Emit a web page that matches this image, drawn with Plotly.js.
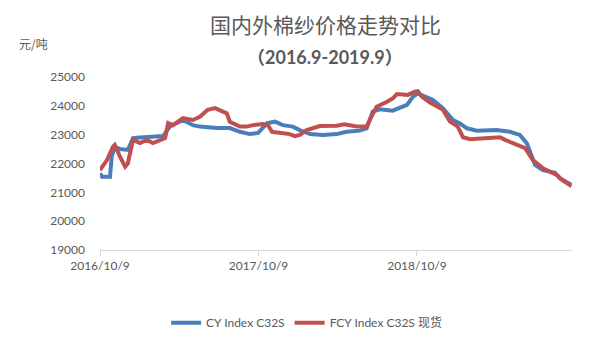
<!DOCTYPE html>
<html>
<head>
<meta charset="utf-8">
<script src="https://cdn.plot.ly/plotly-3.0.1.min.js"></script>
<style>html,body{margin:0;padding:0;background:#fff;}#chart{width:599px;height:362px;}</style>
</head>
<body>
<div id="chart"></div>
<script>
const cyDates = ['2016-10-09','2016-10-14','2016-11-01','2016-11-05','2016-11-12','2016-11-24','2016-12-12','2016-12-24','2017-01-09','2017-02-01','2017-03-03','2017-03-19','2017-04-18','2017-05-11','2017-05-27','2017-07-05','2017-08-04','2017-08-27','2017-09-19','2017-10-08','2017-10-29','2017-11-16','2017-12-04','2017-12-27','2018-01-12','2018-02-05','2018-03-06','2018-04-07','2018-04-30','2018-05-30','2018-06-15','2018-06-29','2018-07-15','2018-08-14','2018-09-16','2018-09-30','2018-10-11','2018-11-15','2018-12-08','2018-12-31','2019-01-16','2019-02-01','2019-02-24','2019-04-11','2019-05-11','2019-06-03','2019-06-19','2019-07-08','2019-07-26','2019-08-23','2019-09-03','2019-09-26','2019-09-30'];
const cyValues = [21660,21540,21540,22240,22580,22500,22470,22880,22900,22920,22950,23280,23510,23330,23280,23230,23230,23100,23020,23060,23400,23450,23330,23280,23160,23020,22990,23020,23100,23140,23220,23800,23880,23830,24030,24320,24430,24200,23910,23510,23390,23220,23140,23160,23100,22990,22700,21950,21770,21680,21490,21290,21260];

const fcyDates = ['2016-10-09','2016-10-25','2016-11-08','2016-11-12','2016-11-24','2016-12-06','2016-12-12','2016-12-24','2017-01-09','2017-01-25','2017-02-08','2017-02-24','2017-03-08','2017-03-15','2017-03-26','2017-04-18','2017-05-11','2017-05-27','2017-06-14','2017-07-01','2017-07-12','2017-07-28','2017-08-04','2017-08-27','2017-09-12','2017-09-26','2017-10-19','2017-10-31','2017-11-09','2017-11-27','2017-12-20','2018-01-01','2018-01-12','2018-01-28','2018-02-27','2018-04-07','2018-04-25','2018-05-23','2018-06-15','2018-06-26','2018-07-08','2018-08-01','2018-08-14','2018-08-24','2018-09-18','2018-10-04','2018-10-11','2018-10-20','2018-11-08','2018-12-08','2018-12-24','2019-01-11','2019-01-23','2019-02-08','2019-04-02','2019-04-18','2019-04-30','2019-05-18','2019-06-15','2019-07-03','2019-07-26','2019-08-27','2019-09-08','2019-09-26','2019-09-30'];
const fcyValues = [21770,22120,22580,22640,22240,21890,22000,22820,22710,22820,22710,22820,22880,23400,23330,23570,23510,23620,23860,23920,23860,23740,23450,23280,23280,23330,23370,23330,23100,23070,23020,22950,22990,23160,23300,23310,23360,23280,23280,23620,23970,24140,24260,24410,24380,24490,24510,24320,24110,23860,23450,23280,22910,22840,22870,22910,22820,22700,22530,22120,21830,21600,21430,21250,21220];

const seriesNames = ['CY Index C32S', 'FCY Index C32S 现货'];
const xTickVals = ['2016-10-09','2017-10-09','2018-10-09'];
const xTickText = ['2016/10/9','2017/10/9','2018/10/9'];
const yTickVals = [19000,20000,21000,22000,23000,24000,25000];

const labelFont = {family: 'Lato, "Noto Sans CJK SC", sans-serif', size: 12, color: '#595959'};

const traces = [
  {x: cyDates, y: cyValues, name: seriesNames[0], type: 'scatter', mode: 'lines',
   line: {color: '#4A7EBB', width: 4, shape: 'linear'}},
  {x: fcyDates, y: fcyValues, name: seriesNames[1], type: 'scatter', mode: 'lines',
   line: {color: '#C0504D', width: 4, shape: 'linear'}}
];

const layout = {
  width: 599, height: 362,
  margin: {l: 100, r: 27, t: 77, b: 112},
  paper_bgcolor: '#ffffff', plot_bgcolor: '#ffffff',
  font: labelFont,
  showlegend: true,
  legend: {orientation: 'h', x: 0.14, xanchor: 'left', y: -0.42, yanchor: 'middle',
           font: labelFont, bgcolor: 'rgba(0,0,0,0)', traceorder: 'normal'},
  xaxis: {type: 'date', range: ['2016-10-09', '2019-10-01'],
          tickvals: xTickVals, ticktext: xTickText, showgrid: false, zeroline: false,
          showline: true, linecolor: '#d9d9d9', linewidth: 1,
          ticks: 'outside', ticklen: 5, tickcolor: '#d9d9d9', tickfont: labelFont},
  yaxis: {range: [19000, 25000], tickvals: yTickVals, tickformat: 'd', showgrid: false, zeroline: false,
          showline: false, ticks: '', ticklabelstandoff: 14, tickfont: labelFont},
  annotations: [
    {text: '国内外棉纱价格走势对比', xref: 'paper', yref: 'paper', x: 0.477, y: 1.0,
     yshift: 53, xanchor: 'center', yanchor: 'middle', showarrow: false,
     font: {family: '"Noto Sans CJK SC", sans-serif', size: 21, color: '#595959'}},
    {text: '<b>（2016.9-2019.9）</b>', xref: 'paper', yref: 'paper', x: 0.477, y: 1.0,
     yshift: 20, xanchor: 'center', yanchor: 'middle', showarrow: false,
     font: {family: 'Lato, "Noto Sans CJK SC", sans-serif', size: 18, color: '#595959'}},
    {text: '元/吨', xref: 'paper', yref: 'paper', x: -0.14, y: 1.0, yshift: 34,
     xanchor: 'center', yanchor: 'middle', showarrow: false,
     font: {family: '"Noto Sans CJK SC", sans-serif', size: 12, color: '#595959'}}
  ]
};

Plotly.newPlot('chart', traces, layout, {displayModeBar: false, staticPlot: true});
</script>
</body>
</html>
